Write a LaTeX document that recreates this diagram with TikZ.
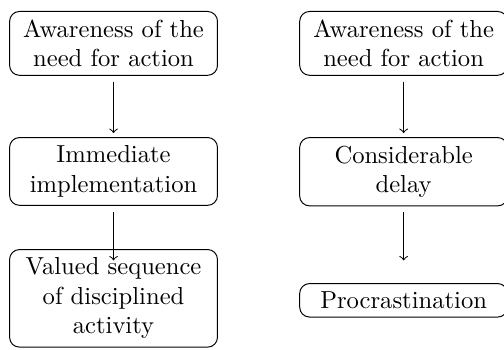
\documentclass[tikz,border=0pt]{standalone}
\begin{document}
\begin{tikzpicture}[box/.style={draw, rounded corners, text width=2.85cm, inner xsep=1.7pt, align=center, anchor=north}]
\useasboundingbox (0,0) rectangle (7.2,-4.99);
\node[box] (1) at (1.622,-0.157) {Awareness of the\\ need for action};
\node[box] (2) at (1.622,-1.958) {Immediate\\ implementation};
\node[box] (3) at (1.622,-3.558) {Valued sequence\\ of disciplined\\ activity};
\node[box] (4) at (5.766,-0.157) {Awareness of the\\ need for action};
\node[box] (5) at (5.766,-1.958) {Considerable\\ delay};
\node[box] (6) at (5.766,-4.044) {Procrastination};
\coordinate (e1) at (1.622,-1.901);
\coordinate (e2) at (1.622,-3.72);
\coordinate (e4) at (5.766,-1.901);
\coordinate (e5) at (5.766,-3.72);
\path[draw,->,shorten <=2.4pt] (1.south) -- (e1);
\path[draw,->,shorten <=2.4pt] (2.south) -- (e2);
\path[draw,->,shorten <=2.4pt] (4.south) -- (e4);
\path[draw,->,shorten <=2.4pt] (5.south) -- (e5);
\end{tikzpicture}
\end{document}
